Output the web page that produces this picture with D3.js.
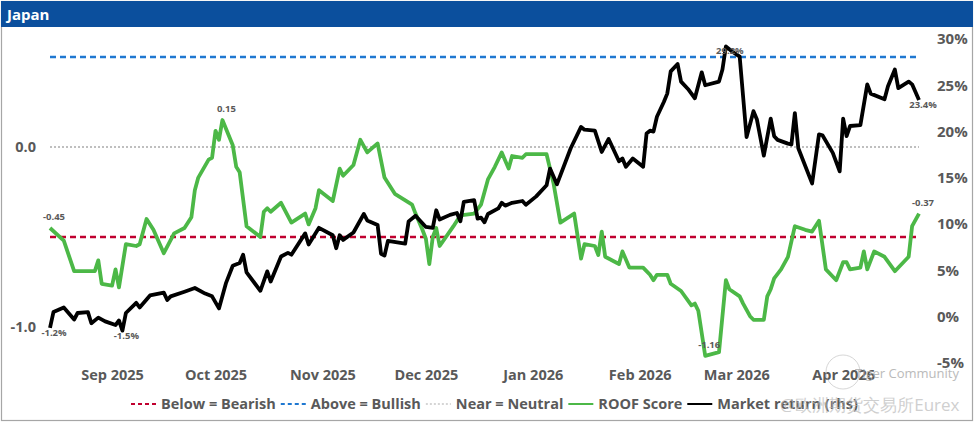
<!DOCTYPE html>
<html>
<head>
<meta charset="utf-8">
<script src="https://cdn.jsdelivr.net/npm/d3@7"></script>
<style>
  body { margin: 0; background: #fff; }
  text { font-family: "Open Sans", "Noto Sans", sans-serif; }
</style>
</head>
<body>
<svg id="chart" width="975" height="424"></svg>
<script>
// ROOF score (lhs)
const roofDates = [
  "2025-08-14","2025-08-18","2025-08-21","2025-08-25","2025-08-27","2025-08-28","2025-08-29",
  "2025-09-01","2025-09-02","2025-09-03","2025-09-05","2025-09-08","2025-09-09","2025-09-11",
  "2025-09-13","2025-09-16","2025-09-19","2025-09-22","2025-09-24","2025-09-25","2025-09-26",
  "2025-09-29","2025-09-30","2025-10-01","2025-10-02","2025-10-03","2025-10-06","2025-10-07",
  "2025-10-08","2025-10-10","2025-10-14","2025-10-15","2025-10-16","2025-10-17","2025-10-20",
  "2025-10-23","2025-10-27","2025-10-28","2025-10-30","2025-10-31","2025-11-04","2025-11-06",
  "2025-11-07","2025-11-10","2025-11-12","2025-11-14","2025-11-17","2025-11-19","2025-11-22",
  "2025-11-27","2025-11-28","2025-11-30","2025-12-01","2025-12-02","2025-12-03","2025-12-04",
  "2025-12-05","2025-12-09","2025-12-11","2025-12-15","2025-12-17","2025-12-19","2025-12-21",
  "2025-12-23","2025-12-25","2025-12-26","2025-12-29","2025-12-30","2026-01-05","2026-01-07",
  "2026-01-09","2026-01-13","2026-01-15","2026-01-16","2026-01-19","2026-01-20","2026-01-21",
  "2026-01-22","2026-01-26","2026-01-27","2026-01-29","2026-02-02","2026-02-04","2026-02-05",
  "2026-02-06","2026-02-09","2026-02-10","2026-02-13","2026-02-16","2026-02-17","2026-02-18",
  "2026-02-20","2026-02-24","2026-02-26","2026-02-27","2026-03-02","2026-03-03","2026-03-05",
  "2026-03-06","2026-03-09","2026-03-10","2026-03-11","2026-03-12","2026-03-14","2026-03-16",
  "2026-03-18","2026-03-21","2026-03-23","2026-03-25","2026-03-27","2026-03-30","2026-04-01",
  "2026-04-02","2026-04-03","2026-04-06","2026-04-07","2026-04-08","2026-04-10","2026-04-13",
  "2026-04-16","2026-04-20","2026-04-21","2026-04-23"
];
const roofValues = [
  -0.45,-0.52,-0.69,-0.69,-0.69,-0.63,-0.76,
  -0.77,-0.68,-0.78,-0.54,-0.55,-0.54,-0.40,
  -0.46,-0.59,-0.48,-0.45,-0.39,-0.24,-0.17,
  -0.07,-0.06,0.09,0.04,0.15,0.01,-0.11,
  -0.14,-0.44,-0.50,-0.36,-0.34,-0.36,-0.31,
  -0.42,-0.37,-0.43,-0.34,-0.24,-0.30,-0.12,
  -0.16,-0.10,0.04,-0.03,0.02,-0.17,-0.26,
  -0.32,-0.37,-0.46,-0.51,-0.65,-0.50,-0.45,
  -0.55,-0.44,-0.38,-0.37,-0.32,-0.18,-0.11,
  -0.03,-0.12,-0.05,-0.06,-0.04,-0.04,-0.20,
  -0.42,-0.37,-0.62,-0.54,-0.55,-0.60,-0.47,
  -0.61,-0.65,-0.58,-0.67,-0.67,-0.71,-0.74,
  -0.71,-0.71,-0.76,-0.80,-0.88,-0.87,-0.91,
  -1.16,-1.14,-0.74,-0.79,-0.83,-0.87,-0.94,
  -0.96,-0.96,-0.83,-0.79,-0.73,-0.68,-0.61,
  -0.44,-0.46,-0.47,-0.41,-0.68,-0.74,-0.64,
  -0.64,-0.68,-0.67,-0.58,-0.68,-0.58,-0.61,
  -0.69,-0.61,-0.44,-0.37
];

// Market return, % (rhs)
const retDates = [
  "2025-08-14","2025-08-15","2025-08-18","2025-08-21","2025-08-22","2025-08-25","2025-08-26",
  "2025-08-28","2025-08-30","2025-09-02","2025-09-03","2025-09-04","2025-09-05","2025-09-08",
  "2025-09-09","2025-09-12","2025-09-16","2025-09-17","2025-09-18","2025-09-22","2025-09-25",
  "2025-09-28","2025-09-30","2025-10-02","2025-10-04","2025-10-06","2025-10-08","2025-10-09",
  "2025-10-10","2025-10-14","2025-10-16","2025-10-17","2025-10-20","2025-10-22","2025-10-23",
  "2025-10-27","2025-10-28","2025-10-31","2025-11-04","2025-11-05","2025-11-06","2025-11-07",
  "2025-11-10","2025-11-13","2025-11-14","2025-11-17","2025-11-18","2025-11-19","2025-11-20",
  "2025-11-25","2025-11-26","2025-11-28","2025-12-01","2025-12-03","2025-12-04","2025-12-05",
  "2025-12-08","2025-12-10","2025-12-11","2025-12-12","2025-12-15","2025-12-16","2025-12-17",
  "2025-12-18","2025-12-19","2025-12-22","2025-12-23","2025-12-24","2025-12-26","2025-12-29",
  "2025-12-30","2026-01-02","2026-01-05","2026-01-06","2026-01-08","2026-01-12","2026-01-15",
  "2026-01-16","2026-01-19","2026-01-21","2026-01-23","2026-01-26","2026-01-27","2026-01-28",
  "2026-01-30","2026-02-02","2026-02-03","2026-02-04","2026-02-05","2026-02-06","2026-02-08",
  "2026-02-09","2026-02-10","2026-02-12","2026-02-13","2026-02-15","2026-02-17","2026-02-19",
  "2026-02-20","2026-02-24","2026-02-25","2026-02-26","2026-02-28","2026-03-02","2026-03-04",
  "2026-03-06","2026-03-07","2026-03-09","2026-03-11","2026-03-12","2026-03-13","2026-03-16",
  "2026-03-17","2026-03-18","2026-03-19","2026-03-23","2026-03-25","2026-03-26","2026-03-29",
  "2026-03-31","2026-04-01","2026-04-02","2026-04-03","2026-04-06","2026-04-08","2026-04-09",
  "2026-04-13","2026-04-14","2026-04-16","2026-04-17","2026-04-20","2026-04-21","2026-04-23"
];
const retValues = [
  -1.2,0.5,1.0,-0.3,0.4,0.5,-0.7,
  -0.1,-0.5,-0.9,-0.4,-1.5,0.4,1.5,
  1.0,2.3,2.6,1.8,2.2,2.7,3.1,
  2.5,2.2,0.9,3.6,5.5,5.8,6.7,
  4.8,2.8,4.9,3.8,6.5,6.9,6.7,
  9.0,7.8,9.6,8.8,7.4,8.8,8.3,
  9.1,11.1,10.4,9.9,6.8,6.6,8.2,
  7.9,10.3,10.9,9.7,9.6,11.5,10.5,
  11.0,11.2,10.3,12.4,12.6,10.6,10.7,
  10.2,11.1,11.7,12.3,12.0,12.3,12.5,
  12.1,13.0,14.2,16.0,14.3,18.2,20.5,
  20.2,20.1,17.8,19.2,16.8,17.1,16.2,
  17.1,16.2,19.8,20.1,20.0,21.6,23.2,
  24.1,26.5,27.3,25.4,24.6,23.6,26.4,
  25.0,25.4,26.7,29.2,28.6,28.1,19.4,
  22.2,21.3,17.4,21.4,19.5,19.1,18.7,
  18.6,22.0,18.2,14.4,19.7,19.6,17.7,
  15.7,21.4,19.5,20.6,20.7,25.1,24.1,
  23.5,24.9,26.7,24.7,25.4,25.1,23.4
];

const bullishLevel = 0.5;
const bearishLevel = -0.5;
const neutralLevel = 0;
const leftTicks = [-1, 0];
const rightTicks = [-5, 0, 5, 10, 15, 20, 25, 30];
const legendLabels = ["Below = Bearish", "Above = Bullish", "Near = Neutral", "ROOF Score", "Market return (rhs)"];

const parse = d3.timeParse("%Y-%m-%d");
const roof = roofDates.map((d, i) => ({ date: parse(d), value: roofValues[i] }));
const ret = retDates.map((d, i) => ({ date: parse(d), value: retValues[i] }));

// plain hyphen for negatives, like the original
const loc = d3.formatLocale({ decimal: ".", thousands: ",", grouping: [3], currency: ["", ""], minus: "-" });
const fmt2 = loc.format(".2f"), fmt1 = loc.format(".1f"), fmt0 = loc.format("d");

const svg = d3.select("#chart");
const W = 975, H = 424;
const grey = "#595959";

// frame + title bar
svg.append("rect").attr("x", 1.5).attr("y", 1.5).attr("width", W - 4).attr("height", H - 5)
   .attr("fill", "#fff").attr("stroke", "#a6a6a6").attr("stroke-width", 1.2);
svg.append("rect").attr("x", 1).attr("y", 1).attr("width", W - 3).attr("height", 26).attr("fill", "#0b4f9d");
svg.append("text").attr("x", 7).attr("y", 20).attr("fill", "#fff")
   .attr("font-size", 15).attr("font-weight", "bold").text("Japan");

const x = d3.scaleTime()
    .domain([parse("2025-08-14"), parse("2026-04-23")])
    .range([50, 919]);
const yL = d3.scaleLinear().domain([-1.2, 0.6]).range([363, 39]);
const yR = d3.scaleLinear().domain([-5, 30]).range([363, 39]);

// left axis
const gL = svg.append("g").attr("transform", "translate(36,0)")
    .call(d3.axisLeft(yL).tickValues(leftTicks).tickFormat(fmt1).tickSize(0).tickPadding(0));
gL.select(".domain").remove();
gL.selectAll("text").attr("font-size", 14.5).attr("font-weight", "bold").attr("fill", grey)
   .attr("font-family", "Open Sans, sans-serif");

// right axis
const gR = svg.append("g").attr("transform", "translate(937,0)")
    .call(d3.axisRight(yR).tickValues(rightTicks).tickFormat(d => fmt0(d) + "%").tickSize(0).tickPadding(0));
gR.select(".domain").remove();
gR.selectAll("text").attr("font-size", 15).attr("font-weight", "bold").attr("fill", grey)
   .attr("font-family", "Open Sans, sans-serif");

// x axis
const gX = svg.append("g").attr("transform", "translate(0,370)")
    .call(d3.axisBottom(x).ticks(d3.timeMonth.every(1)).tickFormat(d3.timeFormat("%b %Y")).tickSize(0).tickPadding(0));
gX.select(".domain").remove();
gX.selectAll(".tick").filter(d => d < parse("2025-09-01")).remove();
gX.selectAll("text").attr("font-size", 14.5).attr("font-weight", "bold").attr("fill", grey)
   .attr("font-family", "Open Sans, sans-serif");

// reference levels
const x0 = x.range()[0], x1 = x.range()[1];
svg.append("line").attr("x1", x0).attr("x2", x1).attr("y1", yL(neutralLevel)).attr("y2", yL(neutralLevel))
   .attr("stroke", "#bfbfbf").attr("stroke-width", 1.8).attr("stroke-dasharray", "2,2");
svg.append("line").attr("x1", x0).attr("x2", x1).attr("y1", yL(bullishLevel)).attr("y2", yL(bullishLevel))
   .attr("stroke", "#1f78d1").attr("stroke-width", 2.5).attr("stroke-dasharray", "6,4");
svg.append("line").attr("x1", x0).attr("x2", x1).attr("y1", yL(bearishLevel)).attr("y2", yL(bearishLevel))
   .attr("stroke", "#c0002f").attr("stroke-width", 2.5).attr("stroke-dasharray", "6,4");

// series
svg.append("path").datum(roof)
   .attr("fill", "none").attr("stroke", "#4cb847").attr("stroke-width", 3.8).attr("stroke-linejoin", "round")
   .attr("d", d3.line().x(d => x(d.date)).y(d => yL(d.value)));
svg.append("path").datum(ret)
   .attr("fill", "none").attr("stroke", "#000").attr("stroke-width", 3.8).attr("stroke-linejoin", "round")
   .attr("d", d3.line().x(d => x(d.date)).y(d => yR(d.value)));

// data labels: first, extremes, last
function pick(arr) {
  return [arr[0], d3.greatest(arr, d => d.value), d3.least(arr, d => d.value), arr[arr.length - 1]];
}
svg.append("g").selectAll("text").data(pick(roof)).join("text")
   .attr("x", d => x(d.date) + 4).attr("y", d => yL(d.value) - 8)
   .attr("text-anchor", "middle").attr("font-size", 9.5).attr("font-weight", "bold").attr("fill", grey)
   .text(d => fmt2(d.value));
svg.append("g").selectAll("text").data(pick(ret)).join("text")
   .attr("x", d => x(d.date) + 4).attr("y", d => yR(d.value) + 8)
   .attr("text-anchor", "middle").attr("font-size", 9.5).attr("font-weight", "bold").attr("fill", grey)
   .text(d => fmt1(d.value) + "%");

// legend
const legendStyles = [
  { stroke: "#c0002f", dash: "4,3", w: 2 },
  { stroke: "#1f78d1", dash: "4,3", w: 2 },
  { stroke: "#c8c8c8", dash: "2,2", w: 1.5 },
  { stroke: "#4cb847", dash: null, w: 2 },
  { stroke: "#000", dash: null, w: 2 }
];
const legend = svg.append("g").attr("transform", "translate(131,404)");
let lx = 0;
legendLabels.forEach((label, i) => {
  const s = legendStyles[i];
  legend.append("line").attr("x1", lx).attr("x2", lx + 25).attr("y1", 0).attr("y2", 0)
        .attr("stroke", s.stroke).attr("stroke-width", s.w).attr("stroke-dasharray", s.dash);
  const t = legend.append("text").attr("x", lx + 30).attr("y", 5)
        .attr("font-size", 14.5).attr("font-weight", "bold").attr("fill", grey).text(label);
  lx += 30 + t.node().getComputedTextLength() + 5;
});

// watermark
svg.append("circle").attr("cx", 843).attr("cy", 372).attr("r", 17)
   .attr("fill", "none").attr("stroke", "#bbb").attr("stroke-width", 1).attr("opacity", 0.6);
svg.append("text").attr("x", 855).attr("y", 378).attr("font-size", 13).attr("fill", "#aaa").attr("opacity", 0.8)
   .attr("font-family", "Noto Sans, sans-serif").text("Tiger Community");
svg.append("text").attr("x", 780).attr("y", 411).attr("font-size", 17).attr("fill", "#bbb").attr("opacity", 0.7)
   .attr("font-family", "Noto Sans CJK SC, sans-serif").text("@欧洲期货交易所Eurex");
</script>
</body>
</html>
